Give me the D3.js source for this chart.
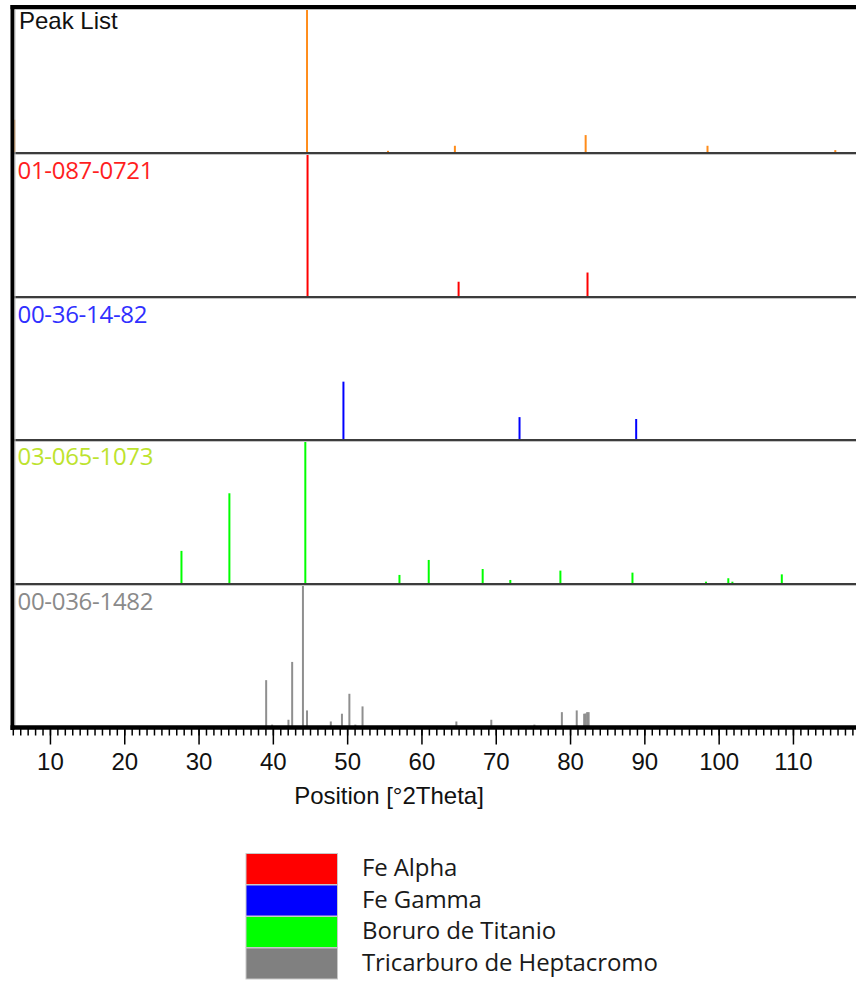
<!DOCTYPE html>
<html>
<head>
<meta charset="utf-8">
<script src="https://cdn.jsdelivr.net/npm/d3@7"></script>
<style>
  html, body { margin: 0; padding: 0; background: #fff; }
  svg { display: block; }
</style>
</head>
<body>
<svg id="chart" width="856" height="983"></svg>
<script>
// ---- data ----------------------------------------------------------------
const xDomain = [5, 120];
const majorTicks = [10, 20, 30, 40, 50, 60, 70, 80, 90, 100, 110];
const tickLabels = ["10", "20", "30", "40", "50", "60", "70", "80", "90", "100", "110"];
const axisTitle = "Position [°2Theta]";

const panelNames = ["Peak List", "01-087-0721", "00-36-14-82", "03-065-1073", "00-036-1482"];
const panelColors = ["#ff8c1a", "#ff0000", "#0000ff", "#00ff00", "#8f8f8f"];
const panelLabelColors = ["#111111", "#ff1e1e", "#3030ff", "#bde32e", "#8a8a8a"];

// Peak list (measured pattern)
const peakListPos = [5.2, 44.6, 55.5, 64.5, 82.1, 98.5, 115.7];
const peakListInt = [23, 100, 1.5, 5, 12.4, 5, 2];

// 01-087-0721
const feAlphaPos = [44.67, 65.0, 82.35];
const feAlphaInt = [100, 10.6, 17];

// 00-36-14-82
const feGammaPos = [49.5, 73.2, 88.9];
const feGammaInt = [40.8, 16, 14.7];

// 03-065-1073
const boruroPos = [27.7, 34.15, 44.37, 57.04, 60.98, 68.24, 71.96, 78.7, 88.4, 98.3, 101.3, 101.85, 108.5];
const boruroInt = [23, 63, 100, 6.3, 16.7, 10.4, 2.8, 9.3, 7.9, 1.6, 4, 1.6, 6.7];

// 00-036-1482
const tricarburoPos = [29.5, 39.1, 39.9, 42.1, 42.6, 44.05, 44.6, 46.1, 47.8, 49.3, 50.3, 51.1, 52.07, 53.3,
  57.0, 61.07, 64.7, 66.0, 67.5, 69.4, 70.8, 75.2, 78.6, 78.9, 80.4, 80.9, 81.9, 82.1, 82.3, 82.5,
  84.7, 85.2, 85.7, 86.4];
const tricarburoInt = [0.7, 33, 2, 5.4, 45.7, 100, 11.9, 1, 4.2, 9.6, 23.5, 2, 14.7, 1,
  1, 1, 4.2, 1, 1, 5.4, 1, 2, 1, 10.7, 1, 11.9, 9.6, 9.8, 10.7, 10.7,
  1, 1, 1, 1];

const legendNames = ["Fe Alpha", "Fe Gamma", "Boruro de Titanio", "Tricarburo de Heptacromo"];
const legendColors = ["#ff0000", "#0000ff", "#00ff00", "#808080"];

// ---- layout ----------------------------------------------------------------
const svg = d3.select("#chart");
const frameLeft = 12.8;
const panelEdges = [8.5, 153, 297, 440, 584, 727.5];

const x = d3.scaleLinear().domain(xDomain).range([frameLeft, frameLeft + 115 * 7.43]);

const series = [
  { pos: peakListPos, int: peakListInt },
  { pos: feAlphaPos, int: feAlphaInt },
  { pos: feGammaPos, int: feGammaInt },
  { pos: boruroPos, int: boruroInt },
  { pos: tricarburoPos, int: tricarburoInt }
];

const labelBaselineOffset = [20.8, 25.5, 26, 25, 26];

series.forEach((s, i) => {
  const top = panelEdges[i], bottom = panelEdges[i + 1];
  const y = d3.scaleLinear().domain([0, 100]).range([bottom, top]);
  const g = svg.append("g").attr("class", "panel");

  g.selectAll("line.stick")
    .data(d3.zip(s.pos, s.int))
    .join("line")
    .attr("class", "stick")
    .attr("x1", d => x(d[0])).attr("x2", d => x(d[0]))
    .attr("y1", y(0)).attr("y2", d => y(d[1]))
    .attr("stroke", panelColors[i])
    .attr("stroke-width", 2);

  g.append("text")
    .attr("x", i === 0 ? 19 : 17.5)
    .attr("y", top + labelBaselineOffset[i])
    .attr("fill", panelLabelColors[i])
    .attr("font-family", i === 0 ? "Liberation Sans, Arial, sans-serif" : "Open Sans, sans-serif")
    .attr("font-size", i === 0 ? 24 : 24)
    .attr("letter-spacing", i === 0 ? 0 : -0.3)
    .text(panelNames[i]);
});

// panel separators
svg.selectAll("line.sep")
  .data(panelEdges.slice(1, -1))
  .join("line")
  .attr("class", "sep")
  .attr("x1", frameLeft).attr("x2", 856)
  .attr("y1", d => d).attr("y2", d => d)
  .attr("stroke", "#3c3c3c").attr("stroke-width", 2);
svg.selectAll("line.sepLight")
  .data(panelEdges.slice(1, -1))
  .join("line")
  .attr("class", "sepLight")
  .attr("x1", frameLeft).attr("x2", 856)
  .attr("y1", d => d + 1.5).attr("y2", d => d + 1.5)
  .attr("stroke", "#c4c4c4").attr("stroke-width", 1);

// frame: thick top and left borders
svg.append("line")
  .attr("x1", 10.5).attr("x2", 856).attr("y1", 7).attr("y2", 7)
  .attr("stroke", "#000").attr("stroke-width", 4);
svg.append("line")
  .attr("x1", 10.5).attr("x2", 856).attr("y1", 9.5).attr("y2", 9.5)
  .attr("stroke", "#bdbdbd").attr("stroke-width", 1);
svg.append("line")
  .attr("x1", 12.5).attr("x2", 12.5).attr("y1", 5).attr("y2", 730)
  .attr("stroke", "#000").attr("stroke-width", 4);
svg.append("line")
  .attr("x1", 15).attr("x2", 15).attr("y1", 9.5).attr("y2", 725)
  .attr("stroke", "#bdbdbd").attr("stroke-width", 1);

// x axis
const axisY = 727.5;
const minorTicks = d3.range(5, 121, 1);
svg.append("g")
  .attr("transform", `translate(0,${axisY})`)
  .call(d3.axisBottom(x).tickValues(minorTicks).tickSize(8).tickFormat(""))
  .call(g => g.select(".domain").remove())
  .call(g => g.selectAll(".tick line").attr("stroke", "#000").attr("stroke-width", 1.5));

const major = svg.append("g")
  .attr("transform", `translate(0,${axisY})`)
  .call(d3.axisBottom(x).tickValues(majorTicks).tickSize(17).tickPadding(5)
    .tickFormat((d, i) => tickLabels[i]))
  .call(g => g.select(".domain").remove());
major.selectAll(".tick line").attr("stroke", "#000").attr("stroke-width", 1.5);
major.selectAll(".tick text")
  .attr("fill", "#111")
  .attr("font-family", "Liberation Sans, Arial, sans-serif")
  .attr("font-size", 24)
  .attr("dy", null)
  .attr("y", 42);

svg.append("line")
  .attr("x1", 10.5).attr("x2", 856).attr("y1", axisY).attr("y2", axisY)
  .attr("stroke", "#000").attr("stroke-width", 4.5);

svg.append("text")
  .attr("x", 389).attr("y", 803.5)
  .attr("text-anchor", "middle")
  .attr("fill", "#111")
  .attr("font-family", "Liberation Sans, Arial, sans-serif")
  .attr("font-size", 24)
  .text(axisTitle);

// legend
const legend = svg.append("g").attr("class", "legend");
const swatchX = 246, swatchW = 91.5, swatchTop = 853.5, rowH = 31.5;
legend.selectAll("rect")
  .data(legendColors)
  .join("rect")
  .attr("x", swatchX)
  .attr("y", (d, i) => swatchTop + i * rowH)
  .attr("width", swatchW)
  .attr("height", rowH - 0.5)
  .attr("fill", d => d)
  .attr("stroke", "#c8c8c8")
  .attr("stroke-width", 1);
legend.selectAll("text")
  .data(legendNames)
  .join("text")
  .attr("x", 362)
  .attr("y", (d, i) => 876 + i * rowH)
  .attr("fill", "#1a1a1a")
  .attr("font-family", "Open Sans, sans-serif")
  .attr("font-size", 24)
  .attr("letter-spacing", -0.1)
  .text(d => d);
</script>
</body>
</html>
